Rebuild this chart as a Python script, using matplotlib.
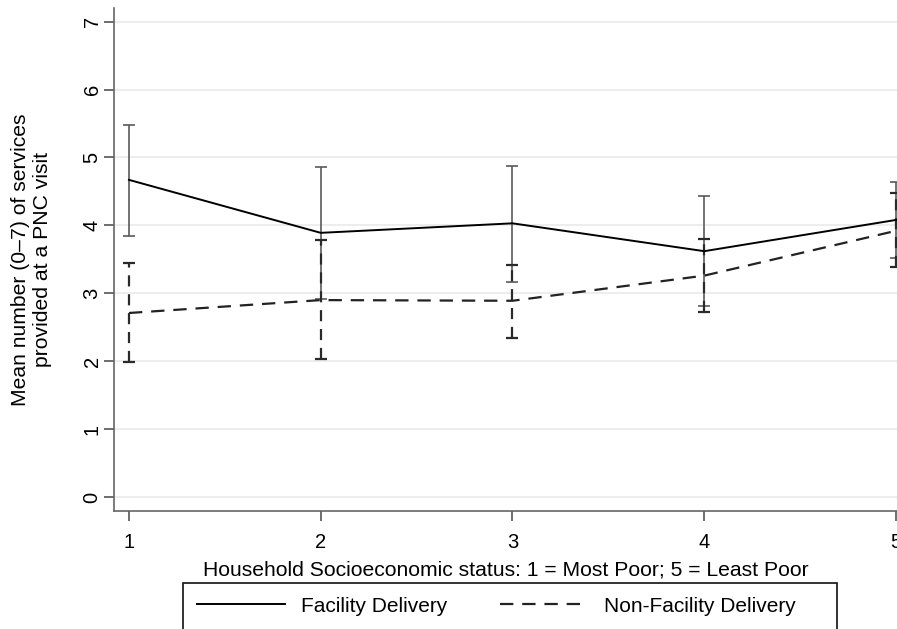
import numpy as np
import matplotlib
matplotlib.use('Agg')
import matplotlib.pyplot as plt
from matplotlib.patches import Rectangle

plt.rcParams['font.family'] = ['Liberation Sans', 'DejaVu Sans']

ses = [1, 2, 3, 4, 5]
fac_mean = [4.67, 3.89, 4.03, 3.62, 4.08]
fac_lo = [3.84, 2.91, 3.17, 2.81, 3.52]
fac_hi = [5.48, 4.86, 4.88, 4.43, 4.64]
non_mean = [2.71, 2.90, 2.89, 3.26, 3.92]
non_lo = [1.99, 2.03, 2.34, 2.73, 3.38]
non_hi = [3.45, 3.78, 3.42, 3.80, 4.47]

fig = plt.figure(figsize=(8.97, 6.29), dpi=100)
ax = fig.add_axes([114/897, 1-511/629, 1-114/897, (511-8)/629])

fm = np.array(fac_mean)
nm = np.array(non_mean)

eb1 = ax.errorbar(ses, fm, yerr=[fm - np.array(fac_lo), np.array(fac_hi) - fm],
                  fmt='none', ecolor='#5a5a5a', elinewidth=1.2, capsize=4.5, capthick=1.2, zorder=2)
eb2 = ax.errorbar(ses, nm, yerr=[nm - np.array(non_lo), np.array(non_hi) - nm],
                  fmt='none', ecolor='#2a2a2a', elinewidth=1.6, capsize=4.5, capthick=1.6, zorder=2)
eb2[2][0].set_linestyle((0, (5, 3.5)))

ax.plot(ses, fac_mean, color='black', lw=1.4, label='Facility Delivery', zorder=3)
ax.plot(ses, non_mean, color='#222222', lw=1.6, ls=(0, (6, 4)), label='Non-Facility Delivery', zorder=3)

ax.set_xlim(0.922, 5.005)
ax.set_ylim(-0.205, 7.2)
ax.set_xticks(ses)
ax.set_yticks(range(0, 8))
ax.tick_params(axis='y', labelrotation=90, labelsize=14.5, colors='#555555', labelcolor='black',
               length=7, width=1.2, pad=2)
ax.tick_params(axis='x', labelsize=14.5, colors='#555555', labelcolor='black', length=7, width=1.2, pad=9)
for lbl in ax.get_yticklabels():
    lbl.set_va('center')
ax.grid(axis='y', color='#eaeaea', lw=1.2)
ax.set_axisbelow(True)
for s in ['top', 'right']:
    ax.spines[s].set_visible(False)
for s in ['left', 'bottom']:
    ax.spines[s].set_color('#666666')
    ax.spines[s].set_linewidth(1.2)

ax.set_xlabel('Household Socioeconomic status: 1 = Most Poor; 5 = Least Poor', fontsize=15.2, labelpad=6)
ax.set_ylabel('Mean number (0\u20137) of services\nprovided at a PNC visit', fontsize=15.2, labelpad=22)

# legend box runs off the bottom edge, as in the reference
box = Rectangle((183/897, -0.05), (837-183)/897, (1-583/629)+0.05, transform=fig.transFigure,
                fill=False, edgecolor='#222222', lw=1.3)
fig.patches.append(box)
leg = fig.legend(loc='center left', bbox_to_anchor=(197/897, 1-606/629), ncol=2, fontsize=15,
                 frameon=False, handlelength=4.2, handletextpad=0.8, columnspacing=2.5,
                 borderpad=0, borderaxespad=0)

fig.savefig('out.png', dpi=100)
